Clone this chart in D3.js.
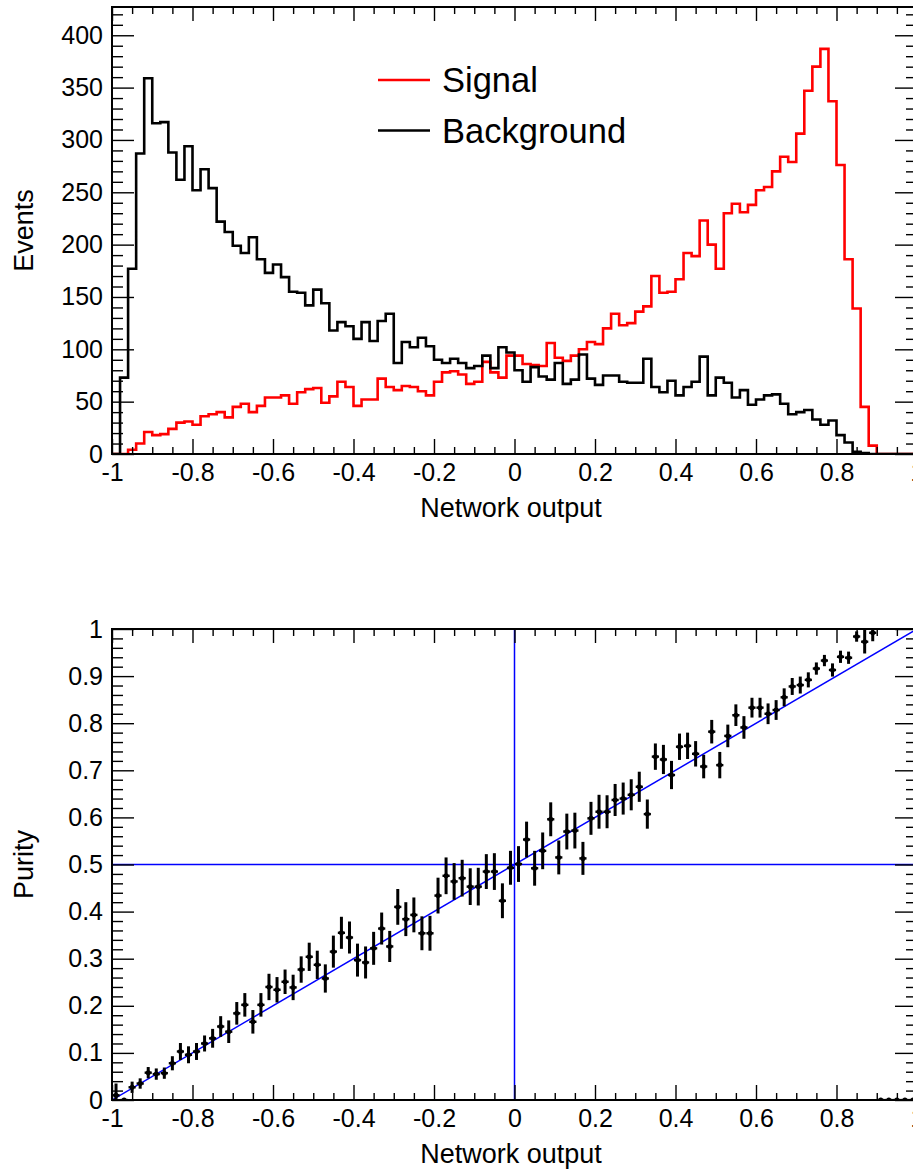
<!DOCTYPE html>
<html><head><meta charset="utf-8">
<script src="https://cdn.jsdelivr.net/npm/d3@7"></script>
<style>
body{margin:0;background:#fff;}
svg{display:block;}
text{font-family:"Liberation Sans",Arial,Helvetica,sans-serif;fill:#000;}
</style></head><body>
<svg id="c" width="913" height="1171"></svg>
<script>
// ---- data ----
const signal = [0,0,4,10,21,18,19,24,30,31,
28,36,38,40,35,45,48,40,46,54,
54,56,48,59,62,63,49,55,69,64,
46,52,52,72,64,61,65,64,60,56,
69,78,79,76,67,69,88,78,73,94,
94,86,85,84,106,92,89,94,100,107,
105,120,134,123,125,136,141,170,154,155,
167,192,189,223,200,177,230,239,231,238,
252,255,270,284,279,306,347,370,387,337,
276,186,139,45,8,0,0,0,0,0];
const background = [0,73,177,287,359,316,317,288,262,294,
252,272,254,222,212,199,192,207,186,173,
181,169,155,154,142,157,144,118,126,122,
110,126,108,127,134,87,107,102,111,103,
90,87,91,87,82,84,94,82,102,97,
80,69,83,74,71,87,67,71,95,72,
66,75,75,69,68,68,91,64,59,70,
56,64,69,93,56,73,68,54,61,47,
52,56,57,48,38,40,42,33,28,32,
18,11,2,1,0,0,0,0,0,0];
const purity = [0.01,0,0.027,0.035,0.058,0.055,0.057,0.078,0.103,0.096,
0.103,0.12,0.131,0.156,0.145,0.184,0.202,0.166,0.202,0.24,
0.234,0.251,0.239,0.277,0.304,0.287,0.258,0.315,0.355,0.345,
0.297,0.292,0.322,0.364,0.326,0.41,0.384,0.393,0.354,0.354,
0.434,0.476,0.464,0.471,0.453,0.453,0.485,0.485,0.423,0.493,
0.501,0.553,0.492,0.529,0.596,0.515,0.57,0.572,0.513,0.598,
0.612,0.612,0.637,0.64,0.648,0.665,0.607,0.729,0.723,0.69,
0.75,0.752,0.735,0.708,0.782,0.711,0.773,0.817,0.791,0.833,
0.833,0.82,0.828,0.855,0.878,0.881,0.892,0.916,0.933,0.913,
0.941,0.939,0.984,0.973,0.992,0,0,0,0,0];
const purityErr = [0.025,0,0.012,0.011,0.012,0.012,0.012,0.015,0.018,0.018,
0.018,0.017,0.02,0.022,0.024,0.024,0.025,0.025,0.025,0.028,
0.027,0.026,0.027,0.028,0.03,0.03,0.03,0.034,0.034,0.034,
0.035,0.034,0.035,0.034,0.033,0.038,0.036,0.037,0.036,0.037,
0.038,0.039,0.039,0.039,0.039,0.04,0.037,0.039,0.037,0.036,
0.038,0.038,0.037,0.039,0.036,0.036,0.038,0.038,0.035,0.035,
0.036,0.035,0.034,0.034,0.033,0.032,0.031,0.028,0.031,0.03,
0.028,0.028,0.027,0.025,0.025,0.028,0.024,0.023,0.024,0.021,
0.021,0.022,0.021,0.019,0.018,0.018,0.016,0.013,0.012,0.014,
0.013,0.013,0.011,0.025,0.018,0,0,0,0,0];
const xTicks = [-1,-0.8,-0.6,-0.4,-0.2,0,0.2,0.4,0.6,0.8,1];
const xTickLabels = ["-1","-0.8","-0.6","-0.4","-0.2","0","0.2","0.4","0.6","0.8","1"];
const eventTicks = [0,50,100,150,200,250,300,350,400];
const eventTickLabels = ["0","50","100","150","200","250","300","350","400"];
const purityTicks = [0,0.1,0.2,0.3,0.4,0.5,0.6,0.7,0.8,0.9,1];
const purityTickLabels = ["0","0.1","0.2","0.3","0.4","0.5","0.6","0.7","0.8","0.9","1"];
const legendLabels = ["Signal","Background"];
const legendColors = ["#ff0000","#000000"];
const xTitle = "Network output";
const yTitleTop = "Events";
const yTitleBottom = "Purity";

// ---- layout ----
const svg = d3.select("#c");
svg.append("rect").attr("width",913).attr("height",1171).attr("fill","#fff");
const FL = 112, FR = 917;
const pTop = {t:7, b:454};
const pBot = {t:629, b:1100};
const x = d3.scaleLinear().domain([-1,1]).range([FL,FR]);
const yTop = d3.scaleLinear().domain([0,427]).range([pTop.b, pTop.t]);
const yBot = d3.scaleLinear().domain([0,1]).range([pBot.b, pBot.t]);
const nBins = signal.length;
const edges = d3.range(nBins+1).map(i => -1 + i*2/nBins);

const xMinor = d3.range(41).map(i => +(-1 + i*0.05).toFixed(2)).filter(v => !xTicks.some(t => Math.abs(t-v)<1e-6));
const evMinor = d3.range(0, 427, 10).filter(v => v%50!==0);
const puMinor = d3.range(0, 51).map(i => +(i*0.02).toFixed(2)).filter(v => !purityTicks.some(t => Math.abs(t-v)<1e-6));

const FONT = "Liberation Sans, Arial, Helvetica, sans-serif";

function styleAxis(g){
  g.select(".domain").remove();
  g.selectAll(".tick line").attr("stroke","#000").attr("stroke-width",1.4);
  g.attr("font-family",FONT).attr("font-size",25);
  g.selectAll("text").attr("fill","#000");
}

function drawFrame(p, yScale, yMaj, yMajLab, yMin){
  const gAx = svg.append("g");
  gAx.append("g").attr("transform",`translate(0,${p.b})`)
    .call(d3.axisBottom(x).tickValues(xTicks).tickSize(-15).tickPadding(9).tickFormat((d,i)=>xTickLabels[i]))
    .call(styleAxis);
  gAx.append("g").attr("transform",`translate(0,${p.b})`)
    .call(d3.axisBottom(x).tickValues(xMinor).tickSize(-7).tickFormat(""))
    .call(styleAxis);
  gAx.append("g").attr("transform",`translate(0,${p.t})`)
    .call(d3.axisTop(x).tickValues(xTicks).tickSize(-14).tickFormat(""))
    .call(styleAxis);
  gAx.append("g").attr("transform",`translate(0,${p.t})`)
    .call(d3.axisTop(x).tickValues(xMinor).tickSize(-7).tickFormat(""))
    .call(styleAxis);
  gAx.append("g").attr("transform",`translate(${FL},0)`)
    .call(d3.axisLeft(yScale).tickValues(yMaj).tickSize(-22).tickPadding(9).tickFormat((d,i)=>yMajLab[i]))
    .call(styleAxis);
  gAx.append("g").attr("transform",`translate(${FL},0)`)
    .call(d3.axisLeft(yScale).tickValues(yMin).tickSize(-11).tickFormat(""))
    .call(styleAxis);
  gAx.append("g").attr("transform",`translate(${FR},0)`)
    .call(d3.axisRight(yScale).tickValues(yMaj).tickSize(-22).tickFormat(""))
    .call(styleAxis);
  gAx.append("g").attr("transform",`translate(${FR},0)`)
    .call(d3.axisRight(yScale).tickValues(yMin).tickSize(-11).tickFormat(""))
    .call(styleAxis);
}

const defs = svg.append("defs");
defs.append("clipPath").attr("id","clipTop").append("rect")
  .attr("x",FL).attr("y",pTop.t).attr("width",FR-FL).attr("height",pTop.b-pTop.t);
defs.append("clipPath").attr("id","clipBot").append("rect")
  .attr("x",FL).attr("y",pBot.t).attr("width",FR-FL).attr("height",pBot.b-pBot.t);

// ---- top panel: histograms ----
function stepPath(vals){
  let p = `M${x(edges[0])},${yTop(0)}`;
  vals.forEach((v,i)=>{ p += `V${yTop(v)}H${x(edges[i+1])}`; });
  p += `V${yTop(0)}`;
  return p;
}
const gH = svg.append("g").attr("clip-path","url(#clipTop)");
gH.append("path").attr("d",stepPath(signal)).attr("fill","none")
  .attr("stroke",legendColors[0]).attr("stroke-width",2.6);
gH.append("path").attr("d",stepPath(background)).attr("fill","none")
  .attr("stroke",legendColors[1]).attr("stroke-width",2.6);

drawFrame(pTop, yTop, eventTicks, eventTickLabels, evMinor);
svg.append("rect").attr("x",FL).attr("y",pTop.t).attr("width",FR-FL).attr("height",pTop.b-pTop.t)
  .attr("fill","none").attr("stroke","#000").attr("stroke-width",2);

const leg = svg.append("g");
legendLabels.forEach((lab,i)=>{
  const ly = 80 + i*50.5;
  leg.append("line").attr("x1",378).attr("x2",430).attr("y1",ly).attr("y2",ly)
    .attr("stroke",legendColors[i]).attr("stroke-width",2.6);
  leg.append("text").attr("x",442).attr("y",ly+12).attr("font-size",34.5).text(lab);
});

svg.append("text").attr("x",511).attr("y",517).attr("text-anchor","middle").attr("font-size",27).text(xTitle);
svg.append("text").attr("transform",`translate(33,${(pTop.t+pTop.b)/2}) rotate(-90)`)
  .attr("text-anchor","middle").attr("font-size",27).text(yTitleTop);

// ---- bottom panel: purity ----
const gP = svg.append("g").attr("clip-path","url(#clipBot)");
gP.append("line").attr("x1",x(-1)).attr("y1",yBot(0)).attr("x2",x(1)).attr("y2",yBot(1))
  .attr("stroke","#0000ff").attr("stroke-width",1.5);
gP.append("line").attr("x1",x(-1)).attr("y1",yBot(0.5)).attr("x2",x(1)).attr("y2",yBot(0.5))
  .attr("stroke","#0000ff").attr("stroke-width",1.5);
gP.append("line").attr("x1",x(0)).attr("y1",yBot(0)).attr("x2",x(0)).attr("y2",yBot(1))
  .attr("stroke","#0000ff").attr("stroke-width",1.5);

const pts = gP.selectAll("g.pt").data(purity.map((v,i)=>({v, e:purityErr[i], c:(edges[i]+edges[i+1])/2})))
  .join("g").attr("class","pt");
pts.filter(d=>d.e>0).append("line")
  .attr("x1",d=>x(d.c)).attr("x2",d=>x(d.c))
  .attr("y1",d=>yBot(d.v-d.e)).attr("y2",d=>yBot(d.v+d.e))
  .attr("stroke","#000").attr("stroke-width",3);
pts.append("line")
  .attr("x1",d=>x(d.c)-3.6).attr("x2",d=>x(d.c)+3.6)
  .attr("y1",d=>yBot(d.v)).attr("y2",d=>yBot(d.v))
  .attr("stroke","#000").attr("stroke-width",2.4);
pts.append("circle").attr("cx",d=>x(d.c)).attr("cy",d=>yBot(d.v)).attr("r",2.5).attr("fill","#000");

drawFrame(pBot, yBot, purityTicks, purityTickLabels, puMinor);
svg.append("rect").attr("x",FL).attr("y",pBot.t).attr("width",FR-FL).attr("height",pBot.b-pBot.t)
  .attr("fill","none").attr("stroke","#000").attr("stroke-width",2);

svg.append("text").attr("x",511).attr("y",1163).attr("text-anchor","middle").attr("font-size",27).text(xTitle);
svg.append("text").attr("transform",`translate(33,${(pBot.t+pBot.b)/2}) rotate(-90)`)
  .attr("text-anchor","middle").attr("font-size",27).text(yTitleBottom);
</script>
</body></html>
